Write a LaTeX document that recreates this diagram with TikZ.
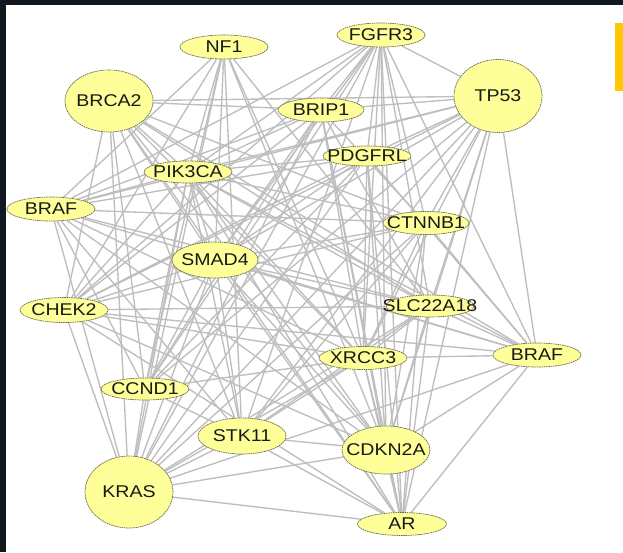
\documentclass[tikz,border=0pt]{standalone}
\usepackage{fontspec}
\usepackage{tikz}
\usetikzlibrary{shapes.geometric,backgrounds}
\newfontfamily\genefont[FakeStretch=1.15]{Liberation Sans}
\definecolor{framebg}{RGB}{18,24,32}
\definecolor{genefill}{RGB}{255,255,153}
\definecolor{geneline}{RGB}{105,105,80}
\definecolor{linkgray}{RGB}{190,190,190}
\definecolor{markgold}{RGB}{255,200,0}
\newcommand{\gn}[1]{\makebox[0pt]{#1}}

\begin{document}
\begin{tikzpicture}[x=1pt,y=-1pt,
  gene/.style={ellipse,fill=genefill,draw=geneline,line width=0.7pt,
    dash pattern=on 1.6pt off 0.7pt,inner sep=0pt,
    minimum width=88pt,minimum height=24pt,
    text=black!90,font=\genefont\fontsize{17pt}{17pt}\selectfont},
  link/.style={linkgray,line width=1.35pt}
]
\useasboundingbox (0,0) rectangle (623,552);

\node[gene] (nfa)   at (224,47)  {\gn{NF1}};
\node[gene] (fgfr)  at (381,35)  {\gn{FGFR3}};
\node[gene,minimum height=62pt] (brca) at (109,101) {\gn{BRCA2}};
\node[gene,minimum height=73pt] (tp)   at (498,96)  {\gn{TP53}};
\node[gene,minimum width=86pt] (brip) at (321,110) {\gn{BRIP1}};
\node[gene,minimum height=20pt] (pdgf) at (367,156) {\gn{PDGFRL}};
\node[gene,minimum height=22pt] (pik)  at (188,172) {\gn{PIK3CA}};
\node[gene] (brafl) at (51,209)  {\gn{BRAF}};
\node[gene,minimum width=86pt,minimum height=23pt] (ctnn) at (426,223) {\gn{CTNNB1}};
\node[gene,minimum width=86pt,minimum height=36pt] (smad) at (215,260) {\gn{SMAD4}};
\node[gene,minimum height=25pt] (chek) at (64,310)  {\gn{CHEK2}};
\node[gene,minimum height=22pt] (slc)  at (430,306) {\gn{SLC22A18}};
\node[gene,minimum height=23pt] (xrcc) at (363,358) {\gn{XRCC3}};
\node[gene] (brafr) at (537,355) {\gn{BRAF}};
\node[gene,minimum height=22pt] (ccnd) at (145,389) {\gn{CCND1}};
\node[gene,minimum height=36pt] (stk)  at (242,436) {\gn{STK11}};
\node[gene,minimum height=48pt] (cdkn) at (386,450) {\gn{CDKN2A}};
\node[gene,minimum height=72pt] (kras) at (129,492) {\gn{KRAS}};
\node[gene,minimum width=89pt,minimum height=23pt] (ar) at (402,524) {\gn{AR}};

\begin{scope}[on background layer]
  \fill[framebg] (0,0) rectangle (623,552);
  \fill[white] (6,5) rectangle (623,552);
  \fill[markgold] (615,23) rectangle (623,91);
  % interactions
  \foreach \b in {brafl,pik,smad,ccnd,kras,stk,slc,cdkn,xrcc,chek}
    \draw[link] (nfa) -- (\b);
  \foreach \b in {pik,brip,pdgf,tp,ctnn,slc,xrcc,cdkn,ar,brafr,smad,ccnd,kras,brafl,chek,stk}
    \draw[link] (fgfr) -- (\b);
  \foreach \b in {brip,tp,pik,smad,ctnn,slc,xrcc,brafr,cdkn,ar,kras,ccnd,chek,stk}
    \draw[link] (brca) -- (\b);
  \foreach \b in {brip,pik,pdgf,ctnn,slc,xrcc,brafr,cdkn,ar,kras,ccnd,stk,smad,chek,brafl}
    \draw[link] (tp) -- (\b);
  \foreach \b in {pik,brafl,smad,ctnn,slc,xrcc,cdkn,ar,kras,ccnd,chek}
    \draw[link] (brip) -- (\b);
  \foreach \b in {pik,brafl,smad,chek,ccnd,kras,xrcc,cdkn,brafr,ar}
    \draw[link] (pdgf) -- (\b);
  \foreach \b in {brafl,smad,ctnn,slc,xrcc,brafr,cdkn,ar,kras,ccnd,chek,stk}
    \draw[link] (pik) -- (\b);
  \foreach \b in {ctnn,slc,xrcc,brafr,ccnd,kras,cdkn,stk}
    \draw[link] (brafl) -- (\b);
  \foreach \b in {smad,chek,xrcc,brafr,cdkn,ar,kras,stk}
    \draw[link] (ctnn) -- (\b);
  \foreach \b in {chek,slc,brafr,cdkn,ar,kras,ccnd,stk}
    \draw[link] (smad) -- (\b);
  \foreach \b in {slc,xrcc,brafr,kras,cdkn,ar}
    \draw[link] (chek) -- (\b);
  \foreach \b in {xrcc,brafr,cdkn,ar,kras,stk}
    \draw[link] (slc) -- (\b);
  \foreach \b in {brafr,cdkn,ar,kras,ccnd,stk}
    \draw[link] (xrcc) -- (\b);
  \foreach \b in {cdkn,ar,kras}
    \draw[link] (brafr) -- (\b);
  \foreach \b in {kras,stk}
    \draw[link] (ccnd) -- (\b);
  \foreach \b in {kras,cdkn,ar}
    \draw[link] (stk) -- (\b);
  \foreach \b in {kras,ar}
    \draw[link] (cdkn) -- (\b);
  \draw[link] (kras) -- (ar);
\end{scope}
\end{tikzpicture}
\end{document}
